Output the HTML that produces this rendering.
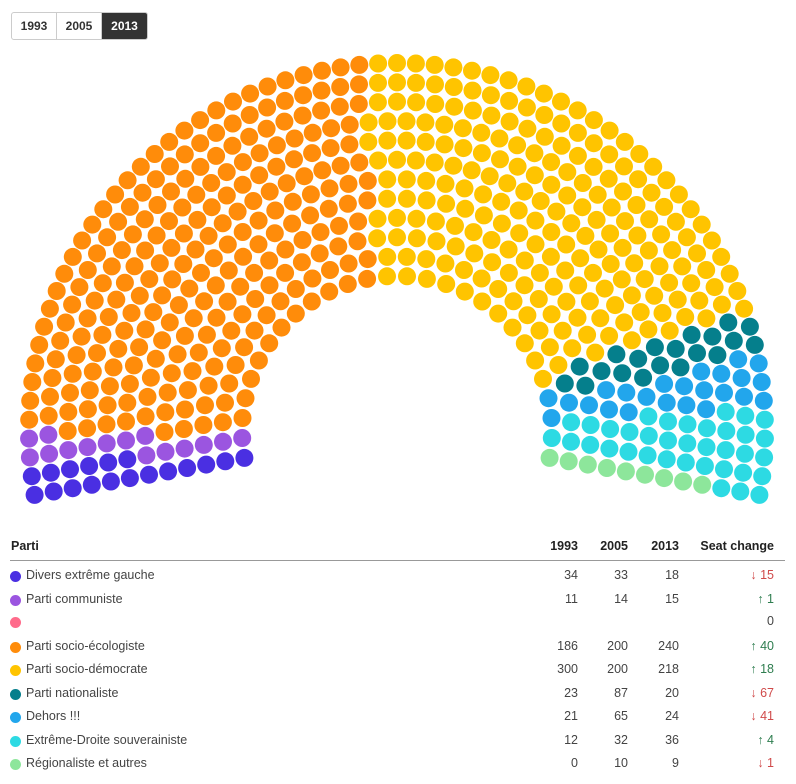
<!DOCTYPE html>
<html><head><meta charset="utf-8"><style>
body{margin:0;background:#fff;font-family:"Liberation Sans",sans-serif;color:#333;width:796px;height:784px;position:relative;overflow:hidden}
.btns{position:absolute;left:11px;top:12px;display:flex;border:1px solid #ccc;border-radius:3px;overflow:hidden;height:26px}
.btns div{width:44px;text-align:center;line-height:26px;font-size:12px;font-weight:bold;color:#333;border-right:1px solid #ccc}
.btns div.on{background:#333;color:#fff;border:none;width:45px}
svg{position:absolute;left:0;top:0}
.t{position:absolute;font-size:12.5px;color:#444;white-space:nowrap}
.h{font-weight:bold;color:#222}
.r{text-align:right}
.dot{position:absolute;width:11px;height:11px;border-radius:50%}
</style></head><body>
<div class="btns"><div>1993</div><div>2005</div><div class="on">2013</div></div>
<svg id="s" width="796" height="520"></svg>
<div style="position:absolute;left:10px;top:560px;width:775px;height:1px;background:#999"></div>
<div id="tbl"></div>
<script>
var parties=[["#4a2fe2",18],["#9b55e0",15],["#ff6b8b",0],["#ff8c0a",240],["#ffc400",218],["#057f8c",20],["#22a6ec",24],["#2ddae3",36],["#8de69b",9]];
var total=580,cx=397,cy=431,r0=155,r1=368,rows=12,span=200*Math.PI/180,a0=Math.PI+10*Math.PI/180;
var radii=[],sum=0;for(var i=0;i<rows;i++){var r=r0+(r1-r0)*i/(rows-1);radii.push(r);sum+=r;}
var counts=radii.map(function(r){return Math.floor(total*r/sum)});
var c=counts.reduce(function(a,b){return a+b},0);var k=rows-1;while(c<total){counts[k]++;c++;k--;if(k<0)k=rows-1;}
var seats=[];
for(var i=0;i<rows;i++){var n=counts[i];for(var j=0;j<n;j++){var a=a0-span*(j/(n-1));seats.push([a,radii[i]]);}}
seats.sort(function(p,q){return q[0]-p[0]||q[1]-p[1]});
var out="",idx=0;
parties.forEach(function(p){for(var j=0;j<p[1];j++){var s=seats[idx++];var x=cx+s[1]*Math.cos(s[0]),y=cy-s[1]*Math.sin(s[0]);out+='<circle cx="'+x.toFixed(1)+'" cy="'+y.toFixed(1)+'" r="9" fill="'+p[0]+'"/>';}});
document.getElementById("s").innerHTML=out;
var rowsT=[["Divers extrême gauche",34,33,18,"↓ 15",0],["Parti communiste",11,14,15,"↑ 1",1],["","","","","0",2],["Parti socio-écologiste",186,200,240,"↑ 40",1],["Parti socio-démocrate",300,200,218,"↑ 18",1],["Parti nationaliste",23,87,20,"↓ 67",0],["Dehors !!!",21,65,24,"↓ 41",0],["Extrême-Droite souverainiste",12,32,36,"↑ 4",1],["Régionaliste et autres",0,10,9,"↓ 1",0]];
var ys=[576,600,622,647,670,694,717,741,764];
var h='<div class="t h" style="left:11px;top:539px">Parti</div><div class="t h r" style="left:528px;width:50px;top:539px">1993</div><div class="t h r" style="left:578px;width:50px;top:539px">2005</div><div class="t h r" style="left:629px;width:50px;top:539px">2013</div><div class="t h r" style="left:674px;width:100px;top:539px">Seat change</div>';
rowsT.forEach(function(r,i){var y=ys[i]-8;var col=r[5]==0?"#d04a4a":r[5]==1?"#2e7d4f":"#444";if(r[4]=="0")col="#444";
h+='<div class="dot" style="left:10px;top:'+(ys[i]-5)+'px;background:'+parties[i][0]+'"></div><div class="t" style="left:26px;top:'+y+'px">'+r[0]+'</div><div class="t r" style="left:528px;width:50px;top:'+y+'px">'+r[1]+'</div><div class="t r" style="left:578px;width:50px;top:'+y+'px">'+r[2]+'</div><div class="t r" style="left:629px;width:50px;top:'+y+'px">'+r[3]+'</div><div class="t r" style="left:674px;width:100px;top:'+y+'px;color:'+col+'">'+r[4]+'</div>';});
document.getElementById("tbl").innerHTML=h;
</script>
</body></html>
